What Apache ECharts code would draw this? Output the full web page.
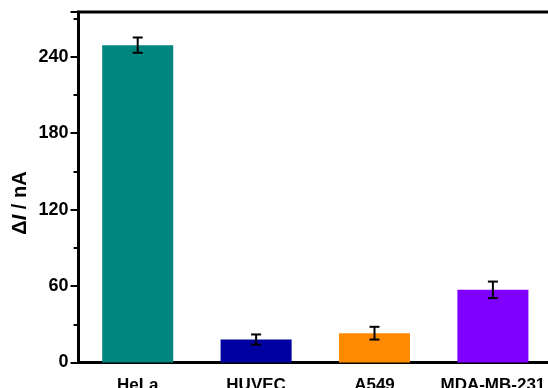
<!DOCTYPE html>
<html>
<head>
<meta charset="utf-8">
<script src="https://cdn.jsdelivr.net/npm/echarts@6/dist/echarts.min.js"></script>
<style>
  html, body { margin: 0; padding: 0; background: #fff; }
  #chart { width: 548px; height: 388px; }
</style>
</head>
<body>
<div id="chart"></div>
<script>
// Cell lines and measured current change (nA) with standard deviations
const categories = ['HeLa', 'HUVEC', 'A549', 'MDA-MB-231'];
const deltaI = [249, 18, 23, 57];
const errors = [6, 4, 5, 6.5];
const barColors = ['#00857F', '#0000A0', '#FF8A00', '#8000FF'];
const yTicks = [0, 60, 120, 180, 240];

const FONT = '"Liberation Sans", Arial, sans-serif';
const chart = echarts.init(document.getElementById('chart'), null, { renderer: 'canvas' });

chart.setOption({
  animation: false,
  backgroundColor: '#fff',
  grid: {
    left: 78.5, top: 12, bottom: 25.5, width: 473.6,
    containLabel: false,
    outerBoundsMode: 'none',
    show: true, borderColor: '#000', borderWidth: 3, backgroundColor: 'transparent'
  },
  xAxis: {
    type: 'category',
    data: categories,
    axisLine: { lineStyle: { color: '#000', width: 3 } },
    axisTick: { show: false },
    axisLabel: {
      interval: 0, margin: 14, color: '#000',
      fontSize: 17, fontWeight: 'bold', fontFamily: FONT
    }
  },
  yAxis: {
    type: 'value',
    min: yTicks[0],
    max: 275,
    interval: yTicks[1] - yTicks[0],
    axisLine: { show: true, lineStyle: { color: '#000', width: 3 } },
    axisTick: { show: true, length: 8, lineStyle: { color: '#000', width: 2 } },
    minorTick: { show: true, splitNumber: 2, length: 5, lineStyle: { color: '#000', width: 2 } },
    splitLine: { show: false },
    axisLabel: {
      margin: 10, color: '#000',
      fontSize: 18, fontWeight: 'bold', fontFamily: FONT,
      formatter: v => (yTicks.includes(v) ? String(v) : '')
    }
  },
  graphic: [{
    type: 'text',
    x: 20, y: 203,
    rotation: Math.PI / 2,
    style: {
      text: '{a|Δ}{b|I}{a| / nA}',
      align: 'center', verticalAlign: 'middle',
      rich: {
        a: { fontSize: 20, fontWeight: 'bold', fontFamily: FONT, fill: '#000' },
        b: { fontSize: 20, fontWeight: 'bold', fontStyle: 'italic', fontFamily: FONT, fill: '#000' }
      }
    }
  }],
  series: [
    {
      type: 'bar',
      barWidth: '60%',
      data: deltaI.map((v, i) => ({ value: v, itemStyle: { color: barColors[i] } })),
      z: 2
    },
    {
      // error bars: vertical whisker with caps
      type: 'custom',
      z: 3,
      data: deltaI.map((v, i) => [i, v, errors[i]]),
      renderItem: function (params, api) {
        const i = api.value(0), v = api.value(1), e = api.value(2);
        const hi = api.coord([i, v + e]);
        const lo = api.coord([i, v - e]);
        const cap = 5;
        const style = { stroke: '#000', lineWidth: 2 };
        return {
          type: 'group',
          children: [
            { type: 'line', shape: { x1: hi[0], y1: hi[1], x2: lo[0], y2: lo[1] }, style },
            { type: 'line', shape: { x1: hi[0] - cap, y1: hi[1], x2: hi[0] + cap, y2: hi[1] }, style },
            { type: 'line', shape: { x1: lo[0] - cap, y1: lo[1], x2: lo[0] + cap, y2: lo[1] }, style }
          ]
        };
      }
    }
  ]
});
</script>
</body>
</html>
